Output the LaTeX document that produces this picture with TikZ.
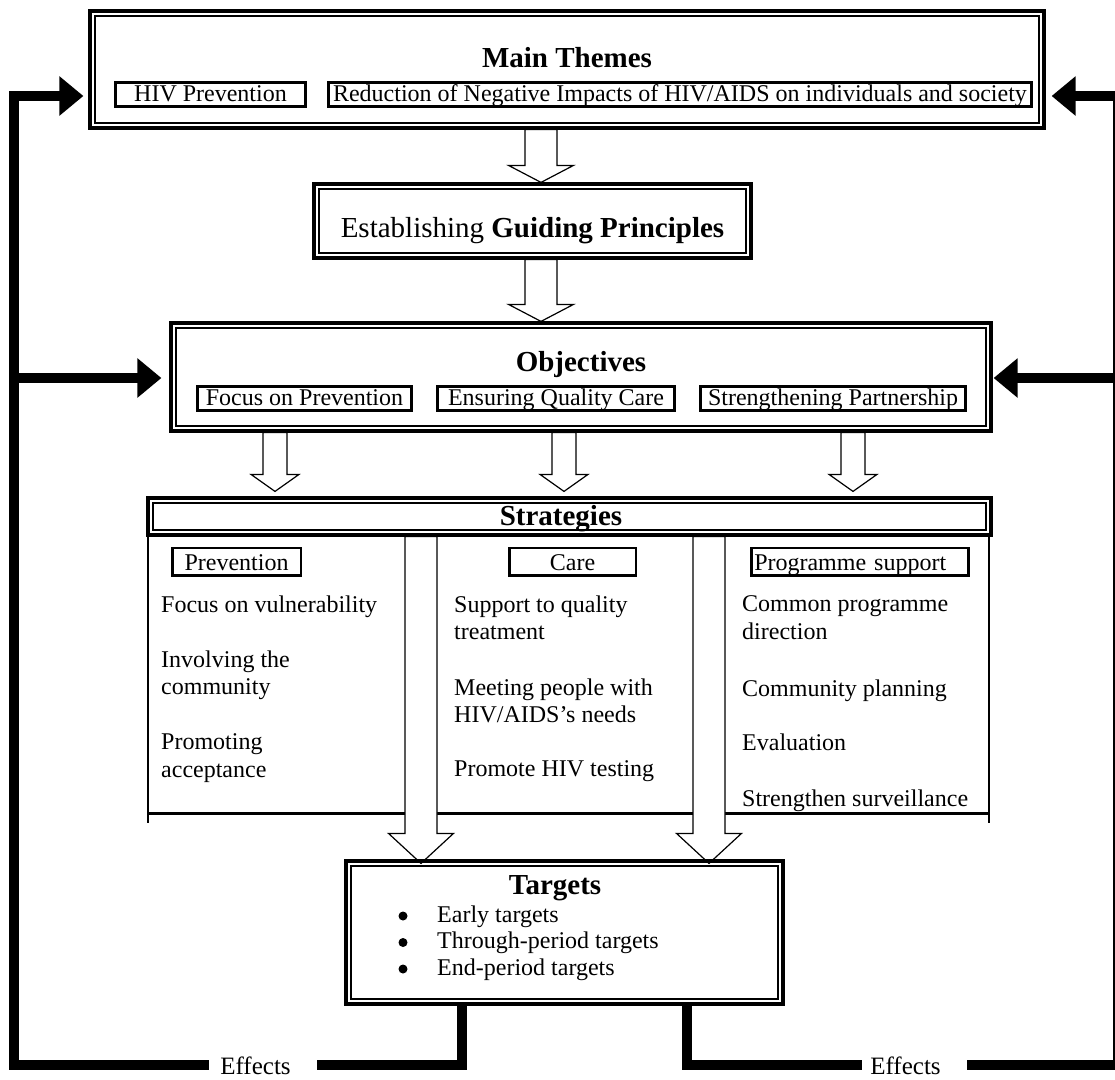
\documentclass[tikz,border=0pt]{standalone}
\usepackage{fontspec}
\setmainfont{Liberation Serif}
\usetikzlibrary{arrows.meta,calc}

% thick outer line of a double box
\newcommand\dframe[1]{\draw[line width=3.5pt] ([xshift=-4.25pt,yshift=4.25pt]#1.north west) rectangle ([xshift=4.25pt,yshift=-4.25pt]#1.south east);}
% hollow block arrow: start, tip, shaft half width, head half width, head length
\newcommand\hollowarrow[5]{\filldraw[hollow] ($(#1)+(-#3,0)$) -- ($(#2)+(-#3,-#5)$) -- ($(#2)+(-#4,-#5)$) -- (#2) -- ($(#2)+(#4,-#5)$) -- ($(#2)+(#3,-#5)$) -- ($(#1)+(#3,0)$) -- cycle;}

\begin{document}
\begin{tikzpicture}[x=1pt, y=-1pt,
    every node/.style={font=\fontsize{24}{27.5}\selectfont},
    dbox/.style={draw, line width=1.2pt, inner sep=0pt},
    ttl/.style={font=\fontsize{29}{34}\selectfont\bfseries, inner sep=0pt},
    tag/.style={draw, line width=3pt, inner xsep=0pt, inner ysep=1.5pt, text height=17pt, text depth=4pt},
    subtag/.style={tag, line width=2.5pt, inner ysep=0pt, text height=22pt, text depth=5.5pt},
    item/.style={anchor=north west, align=left, inner sep=0pt},
    dot/.style={circle, fill, inner sep=0pt, minimum size=9pt},
    hollow/.style={fill=white, line width=1.2pt},
    fb/.style={line width=10pt},
    fbtip/.style={-{Triangle[length=24pt,width=38pt]}}]
    \useasboundingbox (0,0) rectangle (1115,1079);

    % main themes
    \draw (567,69.5) node(themes)[dbox, minimum width=944, minimum height=107]{};
    \draw (567,67) node(themestitle)[ttl, anchor=base]{Main Themes};
    \draw (210.5,101) node(hiv)[tag, anchor=base, minimum width=190]{HIV Prevention};
    \draw (680,101) node(reduce)[tag, anchor=base, minimum width=703]{Reduction of Negative Impacts of HIV/AIDS on individuals and society};

    % guiding principles
    \draw (532.5,221) node(guide)[dbox, minimum width=427, minimum height=64, font=\fontsize{29}{34}\selectfont, text height=36pt, text depth=4pt]{Establishing \textbf{Guiding Principles}};

    % objectives
    \draw (581,377) node(objectives)[dbox, minimum width=810, minimum height=98]{};
    \draw (581,371) node(objtitle)[ttl, anchor=base]{Objectives};
    \draw (304.5,405) node(focus)[tag, anchor=base, minimum width=214]{Focus on Prevention};
    \draw (556,405) node(quality)[tag, anchor=base, minimum width=237]{Ensuring Quality Care};
    \draw (833,405) node(partner)[tag, anchor=base, minimum width=265]{Strengthening Partnership};

    % strategies
    \draw (569.5,516.5) node(strat)[dbox, minimum width=833, minimum height=27]{};
    \draw (561,525) node(strattitle)[ttl, anchor=base]{Strategies};
    \draw (236.5,570) node(prevtag)[subtag, anchor=base, minimum width=128.5]{Prevention};
    \draw (572.5,570) node(caretag)[subtag, anchor=base, minimum width=126.5]{Care};
    \draw (750,570) node(progtag)[subtag, anchor=base west, text width=211pt, inner xsep=3pt, align=left]{Programme support};

    \draw (161,595.5) node(prev1)[item]{Focus on vulnerability};
    \draw (161,650.5) node(prev2)[item]{Involving the\\community};
    \draw (161,733.5) node(prev3)[item]{Promoting\\acceptance};
    \draw (454,595.5) node(care1)[item]{Support to quality\\treatment};
    \draw (454,678.5) node(care2)[item]{Meeting people with\\HIV/AIDS’s needs};
    \draw (454,760.5) node(care3)[item]{Promote HIV testing};
    \draw (742,595.5) node(prog1)[item]{Common programme\\direction};
    \draw (742,679.5) node(prog2)[item]{Community planning};
    \draw (742,733.5) node(prog3)[item]{Evaluation};
    \draw (742,789.5) node(prog4)[item]{Strengthen surveillance};

    \draw[line width=1.5pt] (148,536) -- (148,823);
    \draw[line width=1.5pt] (989,536) -- (989,823);
    \draw[line width=3pt] (148,813) -- (989,813);

    % targets
    \draw (564.5,932.5) node(targets)[dbox, minimum width=427, minimum height=133]{};
    \draw (555,894) node(targettitle)[ttl, anchor=base]{Targets};
    \draw (403,916) node(dot1)[dot]{};
    \draw (403,942.5) node(dot2)[dot]{};
    \draw (403,969) node(dot3)[dot]{};
    \draw (437,905.5) node(tlist)[item, font=\fontsize{24}{26.5}\selectfont]{Early targets\\Through-period targets\\End-period targets};

    % block arrows
    \coordinate (a1) at ($(541,0 |- themes.south)+(0,6)$);
    \coordinate (a2) at ($(541,0 |- guide.north)+(0,-6)$);
    \hollowarrow{a1}{a2}{16}{32.5}{17}
    \coordinate (a3) at ($(541,0 |- guide.south)+(0,6)$);
    \coordinate (a4) at ($(541,0 |- objectives.north)+(0,-6)$);
    \hollowarrow{a3}{a4}{16}{32.5}{17}
    \foreach \x/\n in {275/b1, 564/b2, 853/b3}{
        \coordinate (\n s) at ($(\x,0 |- objectives.south)+(0,6)$);
        \coordinate (\n e) at ($(\x,0 |- strat.north)+(0,-11)$);
        \hollowarrow{\n s}{\n e}{12}{24}{17}
    }
    \foreach \x/\n in {421/c1, 709/c2}{
        \coordinate (\n s) at ($(\x,0 |- strat.south)+(0,6)$);
        \coordinate (\n e) at ($(\x,0 |- targets.north)+(0,-2)$);
        \hollowarrow{\n s}{\n e}{16}{32.5}{30}
    }

    \dframe{themes}
    \dframe{guide}
    \dframe{objectives}
    \dframe{strat}
    \dframe{targets}

    % effects back to themes and objectives
    \coordinate (mtL) at ($(themes.west |- 0,96)+(-11,0)$);
    \coordinate (mtR) at ($(themes.east |- 0,96)+(12,0)$);
    \coordinate (objL) at ($(objectives.west |- 0,378)+(-14,0)$);
    \coordinate (objR) at ($(objectives.east |- 0,378)+(7,0)$);
    \draw (255.5,1074) node(effL)[anchor=base, font=\fontsize{25}{30}\selectfont]{Effects};
    \draw (905.5,1074) node(effR)[anchor=base, font=\fontsize{25}{30}\selectfont]{Effects};
    \coordinate (effLa) at ($(effL.west |- 0,1065)+(-8,0)$);
    \coordinate (effLb) at ($(effL.east |- 0,1065)+(23,0)$);
    \coordinate (effRa) at ($(effR.west |- 0,1065)+(-5,0)$);
    \coordinate (effRb) at ($(effR.east |- 0,1065)+(23,0)$);

    \draw[fb] ($(462,0 |- targets.south)+(0,6)$) |- (effLb);
    \draw[fb, fbtip] (effLa) -| (14,0 |- mtL) -- (mtL);
    \draw[fb, fbtip] (14,0 |- objL) -- (objL);
    \draw[fb] ($(687,0 |- targets.south)+(0,6)$) |- (effRa);
    \draw[fb, fbtip] (effRb) -| (1118,0 |- mtR) -- (mtR);
    \draw[fb, fbtip] (1118,0 |- objR) -- (objR);
\end{tikzpicture}
\end{document}
